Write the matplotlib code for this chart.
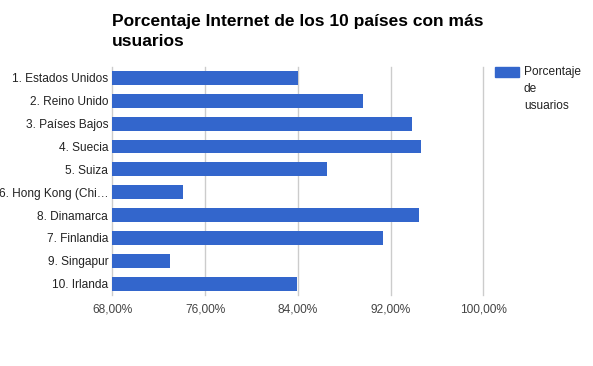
import matplotlib

matplotlib.use("Agg")
import matplotlib.pyplot as plt
from matplotlib.patches import Rectangle

plt.rcParams["font.family"] = ["Liberation Sans", "DejaVu Sans"]

paises = [
    "1. Estados Unidos",
    "2. Reino Unido",
    "3. Países Bajos",
    "4. Suecia",
    "5. Suiza",
    "6. Hong Kong (Chi…",
    "8. Dinamarca",
    "7. Finlandia",
    "9. Singapur",
    "10. Irlanda",
]
porcentaje = [84.06, 89.65, 93.87, 94.64, 86.55, 74.14, 94.47, 91.37, 72.96, 83.89]
ticks = [68, 76, 84, 92, 100]
tick_labels = ["68,00%", "76,00%", "84,00%", "92,00%", "100,00%"]

W, H = 593, 366
fig = plt.figure(figsize=(W / 100, H / 100), dpi=100)
ax = fig.add_axes([112.3 / W, (H - 295) / H, 371 / W, 228.5 / H])

pos = list(range(len(paises)))
ax.barh(pos, [v - 68 for v in porcentaje], left=68, height=0.61, color="#3366cc", zorder=3)
ax.set_xlim(68, 100)
ax.set_ylim(len(paises) - 0.5, -0.5)

for t in ticks:
    ax.axvline(t, color="#cccccc", linewidth=1, zorder=1, clip_on=False)

ax.set_xticks(ticks)
ax.set_xticklabels(tick_labels, fontsize=8.6, color="#444444")
ax.set_yticks(pos)
ax.set_yticklabels(paises, fontsize=8.6, color="#222222")
ax.tick_params(length=0, pad=3)
ax.tick_params(axis="x", pad=6)
for s in ax.spines.values():
    s.set_visible(False)

fig.text(112 / W, 1 - 14 / H, "Porcentaje Internet de los 10 países con más\nusuarios",
         fontsize=12.5, fontweight="bold", color="#000000", va="top", ha="left",
         linespacing=1.42)

# leyenda
fig.patches.append(Rectangle((495 / W, 1 - 77 / H), 24 / W, 10.5 / H,
                             transform=fig.transFigure, color="#3366cc"))
fig.text(524 / W, 1 - 65.5 / H, "Porcentaje\nde\nusuarios", fontsize=8.6, color="#222222",
         va="top", ha="left", linespacing=1.6)

fig.savefig("out.png", dpi=100)
